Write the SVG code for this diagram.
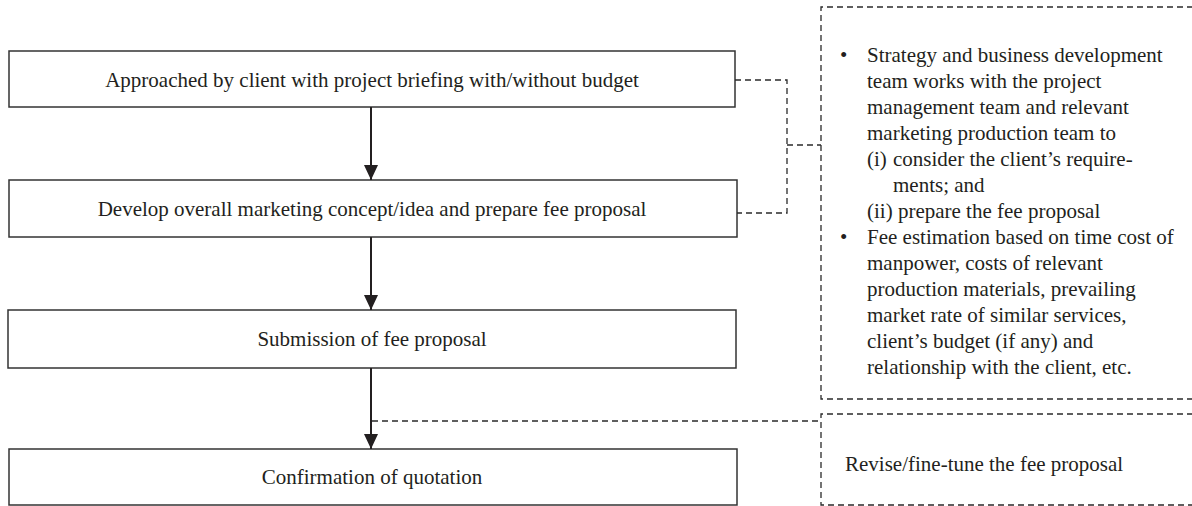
<svg xmlns="http://www.w3.org/2000/svg" width="1192" height="506" viewBox="0 0 1192 506">
  <style>
    .box { fill: #ffffff; stroke: #333333; stroke-width: 1.5; }
    .note { fill: none; stroke: #2a2a2a; stroke-width: 1.3; stroke-dasharray: 6 4; }
    .dash { fill: none; stroke: #2a2a2a; stroke-width: 1.3; stroke-dasharray: 6 4; }
    .flow { fill: none; stroke: #231f20; stroke-width: 2; marker-end: url(#arrow); }
    .label { font-family: "Liberation Serif", "Times New Roman", serif; font-size: 21px; fill: #231f20; }
    .center { text-anchor: middle; }
  </style>
  <defs>
    <marker id="arrow" markerUnits="userSpaceOnUse" viewBox="0 0 15 14" markerWidth="15" markerHeight="14" refX="15" refY="7" orient="auto">
      <path d="M0,0 L15,7 L0,14 Z" fill="#231f20"/>
    </marker>
  </defs>

  <rect width="1192" height="506" fill="#ffffff"/>

  <!-- process steps -->
  <g id="step-approached">
    <rect class="box" x="9" y="51" width="726" height="56"/>
    <text class="label center" x="372" y="87">Approached by client with project briefing with/without budget</text>
  </g>
  <g id="step-develop">
    <rect class="box" x="9" y="180" width="728" height="57"/>
    <text class="label center" x="372" y="216">Develop overall marketing concept/idea and prepare fee proposal</text>
  </g>
  <g id="step-submission">
    <rect class="box" x="8" y="310" width="728" height="58"/>
    <text class="label center" x="372" y="346">Submission of fee proposal</text>
  </g>
  <g id="step-confirmation">
    <rect class="box" x="9" y="449" width="728" height="56"/>
    <text class="label center" x="372" y="484">Confirmation of quotation</text>
  </g>

  <!-- explanatory notes -->
  <g id="note-fee-proposal">
    <path class="note" d="M1193,7 H821 V399 H1193"/>
    <g class="label">
      <text x="840" y="62">•</text>
      <text x="867" y="62">Strategy and business development</text>
      <text x="867" y="88">team works with the project</text>
      <text x="867" y="114">management team and relevant</text>
      <text x="867" y="140">marketing production team to</text>
      <text x="867" y="166">(i)</text>
      <text x="893" y="166">consider the client’s require-</text>
      <text x="893" y="192">ments; and</text>
      <text x="867" y="218">(ii) prepare the fee proposal</text>
      <text x="840" y="244">•</text>
      <text x="867" y="244">Fee estimation based on time cost of</text>
      <text x="867" y="270">manpower, costs of relevant</text>
      <text x="867" y="296">production materials, prevailing</text>
      <text x="867" y="322">market rate of similar services,</text>
      <text x="867" y="348">client’s budget (if any) and</text>
      <text x="867" y="374">relationship with the client, etc.</text>
    </g>
  </g>
  <g id="note-revise">
    <path class="note" d="M1193,414 H821 V505 H1193"/>
    <text class="label" x="845" y="471">Revise/fine-tune the fee proposal</text>
  </g>

  <!-- connectors -->
  <g id="connectors">
    <line class="flow" x1="371" y1="107" x2="371" y2="180"/>
    <line class="flow" x1="371" y1="237" x2="371" y2="310"/>
    <line class="flow" x1="371" y1="368" x2="371" y2="449"/>
    <path class="dash" d="M735,80 H787 V213 H737"/>
    <path class="dash" d="M787,145 H821"/>
    <path class="dash" d="M372,421 H821"/>
  </g>
</svg>
